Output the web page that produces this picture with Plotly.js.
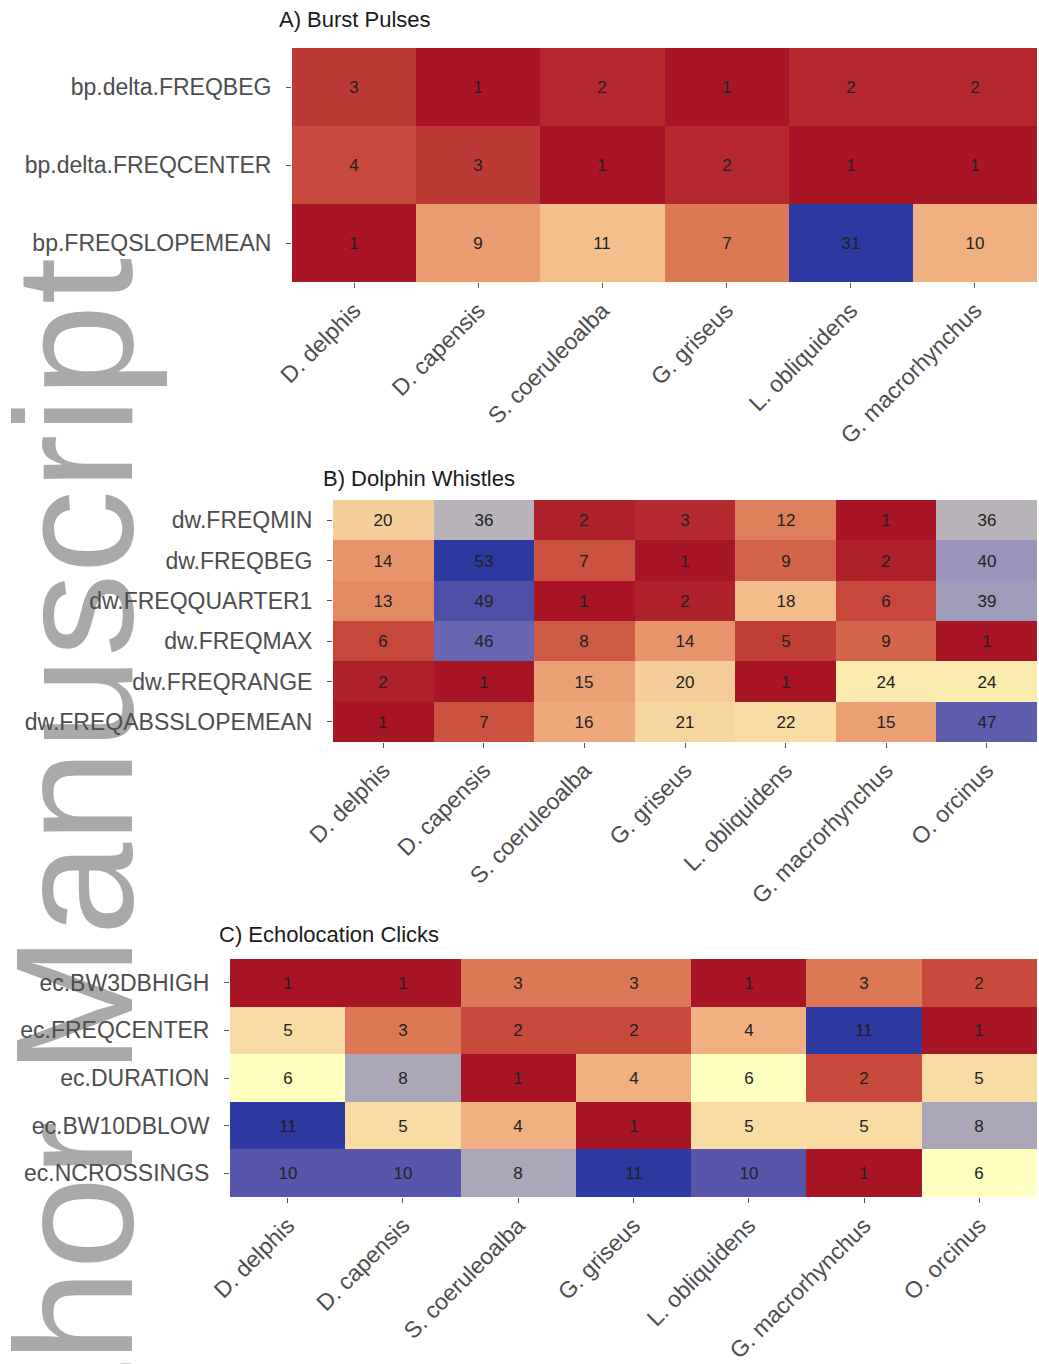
<!DOCTYPE html>
<html>
<head>
<meta charset="utf-8">
<script src="https://cdn.plot.ly/plotly-3.0.1.min.js"></script>
<style>
html,body{margin:0;padding:0;background:#fff;}
#chart{width:1039px;height:1364px;}
</style>
</head>
<body>
<div id="chart"></div>
<script>
// ---- data ----
const speciesA = ["D. delphis","D. capensis","S. coeruleoalba","G. griseus","L. obliquidens","G. macrorhynchus"];
const speciesBC = ["D. delphis","D. capensis","S. coeruleoalba","G. griseus","L. obliquidens","G. macrorhynchus","O. orcinus"];

const rowsA = ["bp.delta.FREQBEG","bp.delta.FREQCENTER","bp.FREQSLOPEMEAN"];
const valuesA = [
  [3, 1, 2, 1, 2, 2],
  [4, 3, 1, 2, 1, 1],
  [1, 9, 11, 7, 31, 10]
];

const rowsB = ["dw.FREQMIN","dw.FREQBEG","dw.FREQQUARTER1","dw.FREQMAX","dw.FREQRANGE","dw.FREQABSSLOPEMEAN"];
const valuesB = [
  [20, 36, 2, 3, 12, 1, 36],
  [14, 53, 7, 1, 9, 2, 40],
  [13, 49, 1, 2, 18, 6, 39],
  [6, 46, 8, 14, 5, 9, 1],
  [2, 1, 15, 20, 1, 24, 24],
  [1, 7, 16, 21, 22, 15, 47]
];

const rowsC = ["ec.BW3DBHIGH","ec.FREQCENTER","ec.DURATION","ec.BW10DBLOW","ec.NCROSSINGS"];
const valuesC = [
  [1, 1, 3, 3, 1, 3, 2],
  [5, 3, 2, 2, 4, 11, 1],
  [6, 8, 1, 4, 6, 2, 5],
  [11, 5, 4, 1, 5, 5, 8],
  [10, 10, 8, 11, 10, 1, 6]
];

const panelTitles = ["A) Burst Pulses","B) Dolphin Whistles","C) Echolocation Clicks"];
const watermark = "Author Manuscript";

// ---- styling ----
const W = 1039, H = 1364;
const FONT = "Liberation Sans, Arial, Helvetica, sans-serif";
const cscale = [
  [0.0,'#a81626'],[0.1,'#c84a3c'],[0.2,'#dd7856'],[0.3,'#f0b082'],[0.4,'#f8dca3'],
  [0.5,'#ffffbf'],[0.6,'#d8d5bb'],[0.7,'#aba6b8'],[0.8,'#8782bd'],[0.9,'#5856aa'],[1.0,'#2c3aa2']
];
function px(x){return x/W;}
function py(y){return 1 - y/H;}
function zmm(v){const f=v.flat();return [Math.min(...f),Math.max(...f)];}

function hm(x,y,z,xa,ya){
  const [mn,mx]=zmm(z);
  return {type:'heatmap',x:x,y:y,z:z,xaxis:xa,yaxis:ya,colorscale:cscale,zmin:mn,zmax:mx,
    showscale:false,texttemplate:'%{z}',textfont:{size:17,color:'#222',family:FONT},hoverinfo:'skip'};
}

const traces=[hm(speciesA,rowsA,valuesA,'x','y'),hm(speciesBC,rowsB,valuesB,'x2','y2'),hm(speciesBC,rowsC,valuesC,'x3','y3')];

function xax(dom,anchor){
  return {domain:dom,anchor:anchor,type:'category',tickangle:-45,showgrid:false,zeroline:false,showline:false,
    ticks:'outside',ticklen:5,tickcolor:'#555',tickwidth:1,tickfont:{size:23,color:'#4d4d4d',family:FONT},
    fixedrange:true,automargin:false};
}
function yax(dom,anchor){
  return {domain:dom,anchor:anchor,type:'category',autorange:'reversed',showgrid:false,zeroline:false,showline:false,
    ticks:'outside',ticklen:5,tickcolor:'#555',tickwidth:1,tickfont:{size:23,color:'#4d4d4d',family:FONT},
    ticklabelstandoff:10,fixedrange:true,automargin:false};
}

const layout={
  width:W,height:H,margin:{l:0,r:0,t:0,b:0},paper_bgcolor:'#fff',plot_bgcolor:'#fff',showlegend:false,
  font:{family:FONT},
  xaxis:xax([px(292),px(1037)],'y'),yaxis:yax([py(282),py(48)],'x'),
  xaxis2:xax([px(333),px(1037)],'y2'),yaxis2:yax([py(742),py(500)],'x2'),
  xaxis3:xax([px(230),px(1037)],'y3'),yaxis3:yax([py(1197),py(959)],'x3'),
  annotations:[
    {text:panelTitles[0],xref:'paper',yref:'paper',x:px(277),y:py(20),xanchor:'left',yanchor:'middle',showarrow:false,font:{size:22,color:'#1a1a1a',family:FONT}},
    {text:panelTitles[1],xref:'paper',yref:'paper',x:px(321),y:py(478),xanchor:'left',yanchor:'middle',showarrow:false,font:{size:22,color:'#1a1a1a',family:FONT}},
    {text:panelTitles[2],xref:'paper',yref:'paper',x:px(217),y:py(935),xanchor:'left',yanchor:'middle',showarrow:false,font:{size:22,color:'#1a1a1a',family:FONT}}
  ],
  shapes:[
    {type:'rect',xref:'paper',yref:'paper',x0:px(-77),x1:px(193),y0:py(1613),y1:py(258),layer:'below',
     line:{width:0},fillcolor:'rgba(0,0,0,0)',
     label:{text:watermark,textangle:-90,textposition:'middle center',font:{size:167,color:'#a9a9a9',family:FONT}}}
  ]
};

Plotly.newPlot('chart',traces,layout,{displayModeBar:false,staticPlot:true});
</script>
</body>
</html>
